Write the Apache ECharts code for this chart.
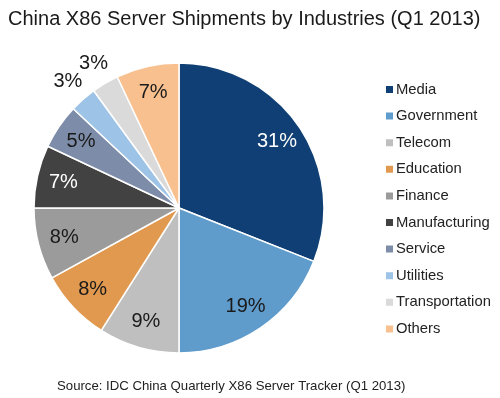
<!DOCTYPE html>
<html><head><meta charset="utf-8">
<script src="https://cdn.jsdelivr.net/npm/echarts@6/dist/echarts.min.js"></script>
<style>html,body{margin:0;padding:0;background:#fff}#c{width:500px;height:398px}</style>
</head><body><div id="c"></div>
<script>
const categories = ['Media','Government','Telecom','Education','Finance','Manufacturing','Service','Utilities','Transportation','Others'];
const shares = [31,19,9,8,8,7,5,3,3,7];
const colors = ['#0f3f74','#5f9ccc','#bfbfbf','#e0994f','#9b9b9b','#424242','#7d8ca8','#9dc3e6','#dadada','#f9c08f'];
const labelColors = ['#ffffff','#1a1a1a','#1a1a1a','#1a1a1a','#1a1a1a','#ffffff','#1a1a1a','#1a1a1a','#1a1a1a','#1a1a1a'];
const outsideLabel = [false,false,false,false,false,false,false,true,true,false];
const titleText = 'China X86 Server Shipments by Industries (Q1 2013)';
const sourceText = 'Source: IDC China Quarterly X86 Server Tracker (Q1 2013)';

const font = 'Liberation Sans, Arial, sans-serif';
const center = [179, 208];
const chart = echarts.init(document.getElementById('c'));

const baseData = categories.map((n,i)=>({name:n, value:shares[i], itemStyle:{color:colors[i]}}));
const innerLabelData = categories.map((n,i)=>({name:n, value:shares[i],
  label:{show:!outsideLabel[i], color:labelColors[i]}}));
const outerLabelData = categories.map((n,i)=>({name:n, value:shares[i],
  label:{show:outsideLabel[i], color:'#1a1a1a'}}));

chart.setOption({
  animation:false,
  backgroundColor:'#fff',
  title:[{text:titleText, left:3, top:4, textStyle:{fontFamily:font, fontSize:20, fontWeight:'normal', color:'#1a1a1a'}},
         {text:sourceText, left:52, top:375, textStyle:{fontFamily:font, fontSize:13.2, fontWeight:'normal', color:'#222'}}],
  legend:{orient:'vertical', left:379, top:77, itemWidth:9, itemHeight:9, itemGap:11.6, icon:'rect',
    data:categories, textStyle:{fontFamily:font, fontSize:14.8, color:'#222', padding:[0,0,0,-3]}},
  series:[
    {type:'pie', radius:[0,145], center:center, startAngle:90, clockwise:true, silent:true,
     itemStyle:{borderColor:'#fff', borderWidth:1.5}, label:{show:false}, labelLine:{show:false}, data:baseData},
    {type:'pie', radius:[86,145], center:center, startAngle:90, clockwise:true, silent:true,
     avoidLabelOverlap:false, labelLayout:{hideOverlap:false},
     itemStyle:{color:'rgba(0,0,0,0)'}, labelLine:{show:false},
     label:{position:'inside', formatter:'{c}%', fontFamily:font, fontSize:20}, data:innerLabelData},
    {type:'pie', radius:[147,183], center:center, startAngle:90, clockwise:true, silent:true,
     avoidLabelOverlap:false, labelLayout:{hideOverlap:false},
     itemStyle:{color:'rgba(0,0,0,0)'}, labelLine:{show:false},
     label:{position:'inside', formatter:'{c}%', fontFamily:font, fontSize:20}, data:outerLabelData}
  ]
});
</script></body></html>
